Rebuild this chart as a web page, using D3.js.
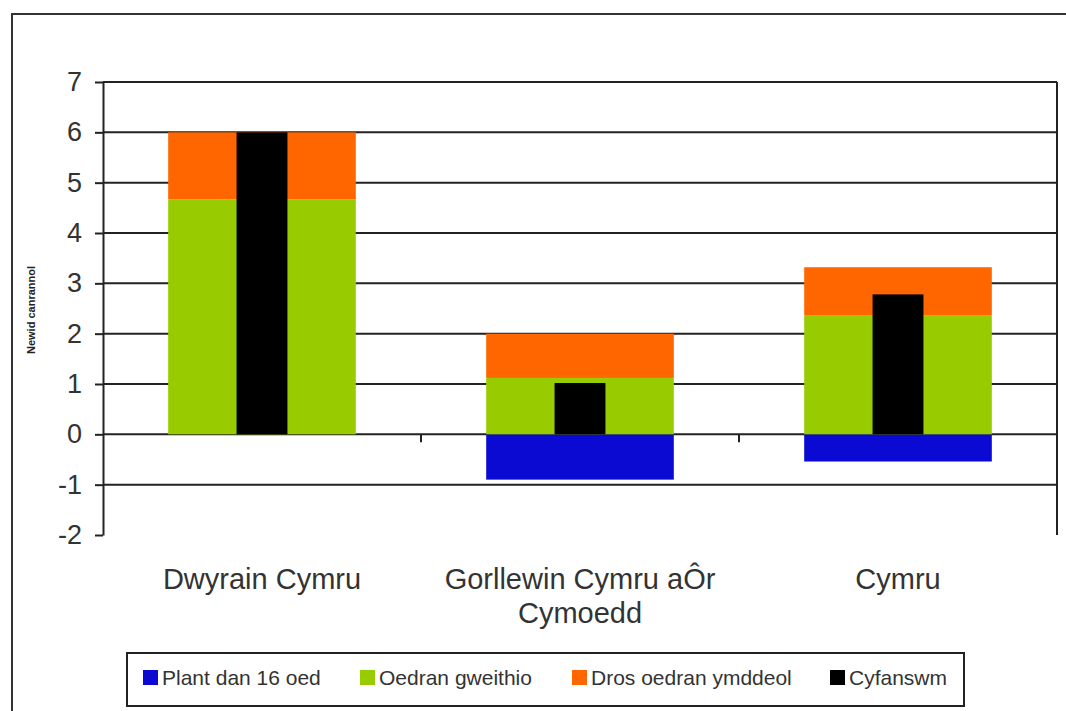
<!DOCTYPE html>
<html>
<head>
<meta charset="utf-8">
<script src="https://cdn.jsdelivr.net/npm/d3@7"></script>
<style>
  body { margin: 0; background: #fff; }
  svg { display: block; font-family: "Liberation Sans", Arial, sans-serif; }
</style>
</head>
<body>
<div id="chart"></div>
<script>
// data
const categories = ["Dwyrain Cymru", "Gorllewin Cymru aÔr Cymoedd", "Cymru"];
const categoryLines = [["Dwyrain Cymru"], ["Gorllewin Cymru aÔr", "Cymoedd"], ["Cymru"]];
const plantDan16 = [0, -0.9, -0.54];
const oedranGweithio = [4.67, 1.12, 2.37];
const drosOedran = [1.33, 0.88, 0.95];
const cyfanswm = [6.0, 1.02, 2.78];
const yTicks = [-2, -1, 0, 1, 2, 3, 4, 5, 6, 7];
const seriesNames = ["Plant dan 16 oed", "Oedran gweithio", "Dros oedran ymddeol", "Cyfanswm"];
const seriesColors = ["#0a0ad2", "#99cc00", "#ff6600", "#000000"];

const W = 1066, H = 711;
const plot = { left: 103, right: 1057, top: 82, bottom: 535 };

const svg = d3.select("#chart").append("svg")
    .attr("width", W)
    .attr("height", H);

// outer chart frame (right side runs off the picture)
svg.append("rect")
    .attr("x", 12).attr("y", 14)
    .attr("width", W + 20).attr("height", H + 20)
    .attr("fill", "none")
    .attr("stroke", "#333")
    .attr("stroke-width", 2);

let x = d3.scaleBand()
    .domain(categories)
    .range([plot.left, plot.right])
    .paddingInner(0.41)
    .paddingOuter(0.205);

let y = d3.scaleLinear()
    .domain([-2, 7])
    .range([plot.bottom, plot.top]);

// gridlines (none at the bottom tick)
svg.append("g")
    .attr("class", "grid")
    .selectAll("line")
    .data(yTicks.filter(d => d > -2))
    .enter().append("line")
    .attr("x1", plot.left).attr("x2", plot.right)
    .attr("y1", d => y(d)).attr("y2", d => y(d))
    .attr("stroke", "#222")
    .attr("stroke-width", 2);

// right frame line of plot area
svg.append("line")
    .attr("x1", plot.right).attr("x2", plot.right)
    .attr("y1", plot.top).attr("y2", plot.bottom)
    .attr("stroke", "#222")
    .attr("stroke-width", 2);

// stacked bars
let table = categories.map((c, i) => ({
    cat: c,
    plant: plantDan16[i],
    oedran: oedranGweithio[i],
    dros: drosOedran[i]
}));

let stack = d3.stack()
    .keys(["plant", "oedran", "dros"])
    .offset(d3.stackOffsetDiverging);

let stacked = stack(table);

svg.append("g")
    .attr("class", "bars")
    .selectAll("g")
    .data(stacked)
    .enter().append("g")
    .attr("fill", (d, i) => seriesColors[i])
    .selectAll("rect")
    .data(d => d)
    .enter().append("rect")
    .attr("x", d => x(d.data.cat))
    .attr("width", x.bandwidth())
    .attr("y", d => y(Math.max(d[0], d[1])))
    .attr("height", d => Math.abs(y(d[0]) - y(d[1])));

// total bar, narrower, in the middle
let totalWidth = x.step() * 0.16;
svg.append("g")
    .attr("class", "totals")
    .selectAll("rect")
    .data(categories)
    .enter().append("rect")
    .attr("fill", seriesColors[3])
    .attr("x", d => x(d) + x.bandwidth() / 2 - totalWidth / 2)
    .attr("width", totalWidth)
    .attr("y", (d, i) => y(Math.max(0, cyfanswm[i])))
    .attr("height", (d, i) => Math.abs(y(cyfanswm[i]) - y(0)));

// y axis
let yAxis = d3.axisLeft(y)
    .tickValues(yTicks)
    .tickSize(8)
    .tickSizeOuter(0)
    .tickFormat(d => String(d));

let yg = svg.append("g")
    .attr("class", "axis axis--y")
    .attr("transform", `translate(${plot.left},0)`)
    .call(yAxis);
yg.select(".domain").attr("stroke", "#222").attr("stroke-width", 2);
yg.selectAll(".tick line").attr("stroke", "#222").attr("stroke-width", 2);
yg.selectAll(".tick text")
    .attr("x", -21)
    .attr("fill", "#333")
    .style("font-size", "27px")
    .style("font-family", "'Liberation Sans', Arial, sans-serif");

// category tick marks between groups, on the zero line
let boundaries = d3.range(1, categories.length).map(i => plot.left + i * x.step());
svg.append("g")
    .selectAll("line")
    .data(boundaries)
    .enter().append("line")
    .attr("x1", d => d).attr("x2", d => d)
    .attr("y1", y(0)).attr("y2", y(0) + 8)
    .attr("stroke", "#222")
    .attr("stroke-width", 2);

// category labels
svg.append("g")
    .attr("class", "cat-labels")
    .selectAll("text")
    .data(categories)
    .enter().append("text")
    .attr("x", d => x(d) + x.bandwidth() / 2)
    .attr("y", 589)
    .attr("text-anchor", "middle")
    .attr("fill", "#333")
    .style("font-size", "29px")
    .each(function(d, i) {
        d3.select(this).selectAll("tspan")
            .data(categoryLines[i])
            .enter().append("tspan")
            .attr("x", x(d) + x.bandwidth() / 2)
            .attr("dy", (t, j) => j === 0 ? 0 : 34)
            .text(t => t);
    });

// y title
svg.append("text")
    .attr("transform", "translate(35,310) rotate(-90)")
    .attr("text-anchor", "middle")
    .attr("fill", "#222")
    .style("font-size", "11px")
    .style("font-weight", "bold")
    .text("Newid canrannol");

// legend
let legend = svg.append("g").attr("class", "legend");
legend.append("rect")
    .attr("x", 127).attr("y", 653)
    .attr("width", 837).attr("height", 53)
    .attr("fill", "#fff")
    .attr("stroke", "#222")
    .attr("stroke-width", 2);

const legendX = [143, 360, 572, 830];
let items = legend.selectAll(".item")
    .data(seriesNames)
    .enter().append("g")
    .attr("class", "item")
    .attr("transform", (d, i) => `translate(${legendX[i]},670)`);
items.append("rect")
    .attr("width", 15).attr("height", 15)
    .attr("fill", (d, i) => seriesColors[i]);
items.append("text")
    .attr("x", 19)
    .attr("y", 15)
    .attr("fill", "#333")
    .style("font-size", "21px")
    .text(d => d);
</script>
</body>
</html>
